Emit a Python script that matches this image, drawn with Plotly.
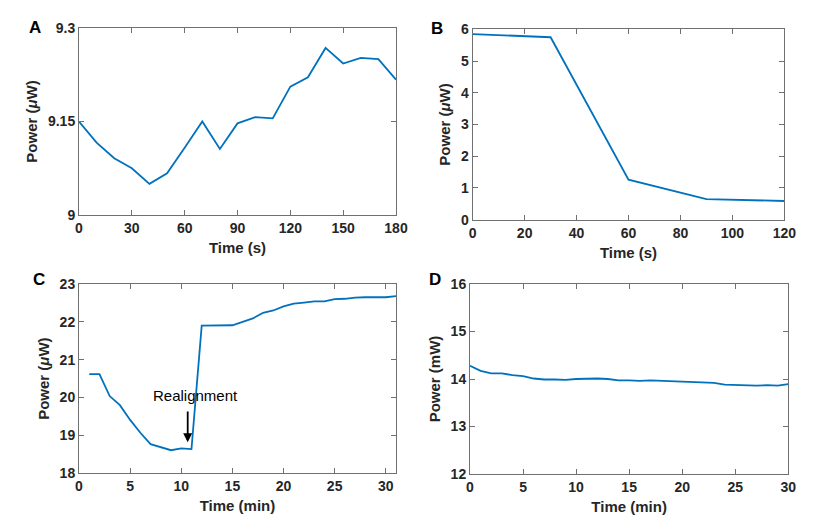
import plotly.graph_objects as go

# Panel A
a_time = [0, 10, 20, 30, 40, 50, 60, 70, 80, 90, 100, 110, 120, 130, 140, 150, 160, 170, 180]
a_power = [9.150, 9.116, 9.091, 9.075, 9.050, 9.067, 9.108, 9.150, 9.106, 9.147, 9.157, 9.155,
           9.206, 9.221, 9.268, 9.243, 9.252, 9.250, 9.217]
# Panel B
b_time = [0, 30, 60, 90, 120]
b_power = [5.85, 5.75, 1.26, 0.65, 0.59]
# Panel C
c_time = list(range(1, 32))
c_power = [20.62, 20.62, 20.04, 19.80, 19.41, 19.07, 18.77, 18.68, 18.61, 18.66, 18.64,
           21.90, 21.90, 21.90, 21.91, 22.00, 22.09, 22.24, 22.30, 22.41, 22.48, 22.51,
           22.54, 22.54, 22.60, 22.61, 22.64, 22.65, 22.65, 22.65, 22.68]
# Panel D
d_time = list(range(0, 31))
d_power = [14.28, 14.17, 14.12, 14.12, 14.08, 14.06, 14.01, 13.99, 13.99, 13.98, 14.00,
           14.01, 14.01, 14.00, 13.97, 13.97, 13.96, 13.97, 13.96, 13.96, 13.95, 13.94,
           13.92, 13.92, 13.88, 13.87, 13.86, 13.86, 13.87, 13.86, 13.89]

W, H = 830, 529
OFF = 8  # page body margin
LINE = "#0072BD"
FONT = "Liberation Sans, Arial, sans-serif"
TXT = "#262626"
AX = "#707070"

fig = go.Figure()
fig.add_trace(go.Scatter(x=a_time, y=a_power, mode="lines", line=dict(color=LINE, width=1.8),
                         xaxis="x", yaxis="y", showlegend=False))
fig.add_trace(go.Scatter(x=b_time, y=b_power, mode="lines", line=dict(color=LINE, width=1.8),
                         xaxis="x2", yaxis="y2", showlegend=False))
fig.add_trace(go.Scatter(x=c_time, y=c_power, mode="lines", line=dict(color=LINE, width=1.8),
                         xaxis="x3", yaxis="y3", showlegend=False))
fig.add_trace(go.Scatter(x=d_time, y=d_power, mode="lines", line=dict(color=LINE, width=1.8),
                         xaxis="x4", yaxis="y4", showlegend=False))


def px_x(p):
    return (p - OFF) / W


def px_y(p):
    return 1 - (p - OFF) / H


def xax(dom, rng, dtick, title, anchor):
    return dict(domain=dom, range=rng, dtick=dtick, tick0=0, anchor=anchor, automargin=False,
                showline=True, mirror="ticks", linecolor=AX, linewidth=1,
                ticks="inside", ticklen=5, tickcolor=AX, showgrid=False, zeroline=False,
                tickprefix="<b>", ticksuffix="</b>",
                tickfont=dict(family=FONT, size=14, color=TXT),
                title=dict(text=f"<b>{title}</b>", font=dict(family=FONT, size=15, color=TXT), standoff=7))


def yax(dom, rng, tickvals, ticktext, title, anchor):
    return dict(domain=dom, range=rng, tickvals=tickvals, ticktext=ticktext, anchor=anchor,
                automargin=False,
                showline=True, mirror="ticks", linecolor=AX, linewidth=1,
                ticks="inside", ticklen=5, tickcolor=AX, showgrid=False, zeroline=False,
                tickfont=dict(family=FONT, size=14, color=TXT),
                title=dict(text=f"<b>{title}</b>", font=dict(family=FONT, size=15, color=TXT), standoff=6))


def bold(vals):
    return [f"<b>{v}</b>" for v in vals]


a_yt = [9, 9.15, 9.3]
b_yt = [0, 1, 2, 3, 4, 5, 6]
c_yt = [18, 19, 20, 21, 22, 23]
d_yt = [12, 13, 14, 15, 16]

fig.update_layout(
    width=W, height=H, margin=dict(l=0, r=0, t=0, b=0),
    paper_bgcolor="white", plot_bgcolor="white",
    xaxis=xax([px_x(79), px_x(396)], [0, 180], 30, "Time (s)", "y"),
    yaxis=yax([px_y(215), px_y(28)], [9, 9.3], a_yt, bold(a_yt), "Power (<i>μ</i>W)", "x"),
    xaxis2=xax([px_x(472.7), px_x(784.3)], [0, 120], 20, "Time (s)", "y2"),
    yaxis2=yax([px_y(219.7), px_y(29.3)], [0, 6], b_yt, bold(b_yt), "Power (<i>μ</i>W)", "x2"),
    xaxis3=xax([px_x(79), px_x(396)], [0, 31], 5, "Time (min)", "y3"),
    yaxis3=yax([px_y(473.3), px_y(284)], [18, 23], c_yt, bold(c_yt), "Power (<i>μ</i>W)", "x3"),
    xaxis4=xax([px_x(470), px_x(788.3)], [0, 30], 5, "Time (min)", "y4"),
    yaxis4=yax([px_y(474), px_y(284)], [12, 16], d_yt, bold(d_yt), "Power (mW)", "x4"),
)

# Panel letters
for letter, x, y in [("A", 35, 27), ("B", 437, 28), ("C", 39, 279), ("D", 435, 279)]:
    fig.add_annotation(text=f"<b>{letter}</b>", x=px_x(x), y=px_y(y), xref="paper", yref="paper",
                       showarrow=False, xanchor="center", yanchor="middle",
                       font=dict(family=FONT, size=17, color="black"))

# Realignment arrow and label
fig.add_annotation(x=10.63, y=18.82, ax=10.63, ay=19.67, xref="x3", yref="y3", axref="x3", ayref="y3",
                   text="", showarrow=True, arrowhead=2, arrowsize=1, arrowwidth=1.8, arrowcolor="black")
fig.add_annotation(x=11.4, y=20.05, xref="x3", yref="y3", text="Realignment", showarrow=False,
                   xanchor="center", yanchor="middle", font=dict(family=FONT, size=15, color="black"))

fig.write_html("out.html")
